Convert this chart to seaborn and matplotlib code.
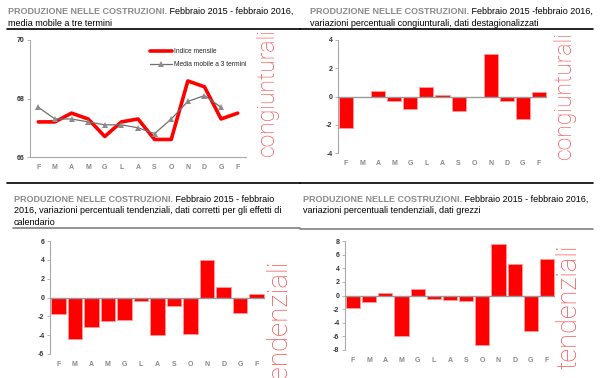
import matplotlib
matplotlib.use("Agg")
import matplotlib.pyplot as plt
import seaborn as sns
import pandas as pd
import numpy as np

# dati
mesi = ['F', 'M', 'A', 'M', 'G', 'L', 'A', 'S', 'O', 'N', 'D', 'G', 'F']
indice_mensile = [67.2, 67.2, 67.5, 67.3, 66.7, 67.2, 67.3, 66.6, 66.6, 68.6, 68.4, 67.3, 67.5]
media_mobile = [67.7, 67.3, 67.3, 67.2, 67.1, 67.1, 67.0, 66.8, 67.3, 67.9, 68.1, 67.7]
cong_destag = [-2.2, 0.0, 0.4, -0.3, -0.9, 0.7, 0.1, -1.0, 0.0, 3.0, -0.3, -1.6, 0.3]
tend_corretti = [-1.8, -4.4, -3.1, -2.5, -2.4, -0.4, -4.0, -0.9, -3.9, 4.0, 1.1, -1.6, 0.4]
tend_grezzi = [-1.8, -1.0, 0.4, -5.9, 1.0, -0.5, -0.6, -0.8, -7.2, 7.6, 4.6, -5.2, 5.4]

titolo_grigio = 'PRODUZIONE NELLE COSTRUZIONI.'
titoli = [
    [' Febbraio 2015 - febbraio 2016,', 'media mobile a tre termini'],
    [' Febbraio 2015 -febbraio 2016,', 'variazioni percentuali congiunturali, dati destagionalizzati'],
    [' Febbraio 2015 - febbraio', '2016, variazioni percentuali tendenziali, dati corretti per gli effetti di', 'calendario'],
    [' Febbraio 2015 - febbraio 2016,', 'variazioni percentuali tendenziali, dati grezzi'],
]

sns.set_style('white')
plt.rcParams['font.family'] = ['Liberation Sans', 'DejaVu Sans']

W, H = 610, 378
fig = plt.figure(figsize=(W / 100, H / 100), dpi=100)

ROSSO = '#ff0000'
ROSA = '#f05252'
FS = 6.5

def rect(x0, y0, x1, y1):
    return [x0 / W, 1 - y1 / H, (x1 - x0) / W, (y1 - y0) / H]

def titolo(x, y, righe):
    t = fig.text(x / W, 1 - y / H, titolo_grigio, color='#8a8a8a', fontsize=FS,
                 fontweight='bold', va='baseline')
    plt.annotate(righe[0], xy=(1, 0), xycoords=t, va='bottom', ha='left',
                 fontsize=FS, color='black', annotation_clip=False)
    for i, r in enumerate(righe[1:]):
        fig.text(x / W, 1 - (y + 11.5 * (i + 1)) / H, r, fontsize=FS, color='black', va='baseline')

def riga(x0, x1, y, col):
    fig.add_artist(plt.Line2D([x0 / W, x1 / W], [1 - y / H, 1 - y / H], color=col, lw=1.2))

def verticale(x, y, testo, fs):
    fig.text(x / W, 1 - y / H, testo, rotation=90, fontsize=fs, color=ROSA,
             family=['Roboto', 'DejaVu Sans'], fontweight='light', va='bottom', ha='left')

def stile(ax, ylim, yticks):
    ax.set_ylim(*ylim)
    ax.set_yticks(yticks)
    ax.set_yticklabels([str(v) for v in yticks], fontsize=5, fontweight='bold', color='#333333')
    ax.set_xlim(-0.5, 12.5)
    ax.set_xticks(range(13))
    ax.set_xticklabels(mesi, fontsize=5, fontweight='bold', color='#888888')
    for s in ['top', 'right']:
        ax.spines[s].set_visible(False)
    ax.spines['left'].set_color('#aaaaaa')
    ax.spines['left'].set_linewidth(0.8)
    ax.tick_params(axis='y', length=2, width=0.6, color='#aaaaaa', pad=2, left=True)
    ax.tick_params(axis='x', length=0, pad=5)
    ax.set_xlabel('')
    ax.set_ylabel('')
    ax.set_facecolor('none')

def barre(ax, vals):
    df = pd.DataFrame({'pos': range(13), 'val': vals})
    sns.barplot(data=df, x='pos', y='val', ax=ax, color=ROSSO, saturation=1,
                width=0.88, edgecolor='#ff9a9a', linewidth=0.6)
    ax.axhline(0, color='#999999', lw=1.0, zorder=3)
    ax.spines['bottom'].set_visible(False)

# pannello 1: indice e media mobile
ax1 = fig.add_axes(rect(30, 40, 246, 157))
df1 = pd.DataFrame({'pos': range(13), 'val': indice_mensile})
df2 = pd.DataFrame({'pos': range(12), 'val': media_mobile})
sns.lineplot(data=df1, x='pos', y='val', ax=ax1, color=ROSSO, lw=2.6, label='Indice mensile')
sns.lineplot(data=df2, x='pos', y='val', ax=ax1, color='#707070', lw=0.9, marker='^',
             markersize=5, markeredgewidth=0, markerfacecolor='#8c8c8c', label='Media mobile a 3 termini')
stile(ax1, (66, 70), [66, 68, 70])
ax1.spines['bottom'].set_color('#aaaaaa')
ax1.spines['bottom'].set_linewidth(0.8)
ax1.legend(loc='upper left', bbox_to_anchor=(0.53, 0.98), frameon=False, fontsize=4.8,
           handlelength=3.2, labelspacing=0.9, handletextpad=0.3)

# pannello 2
ax2 = fig.add_axes(rect(338, 40, 547, 153))
barre(ax2, cong_destag)
stile(ax2, (-4, 4), [-4, -2, 0, 2, 4])

# pannello 3
ax3 = fig.add_axes(rect(50, 241, 265, 354))
barre(ax3, tend_corretti)
stile(ax3, (-6, 6), [-6, -4, -2, 0, 2, 4, 6])

# pannello 4
ax4 = fig.add_axes(rect(345, 241, 555, 350))
barre(ax4, tend_grezzi)
stile(ax4, (-8, 8), [-8, -6, -4, -2, 0, 2, 4, 6, 8])

# titoli e righe
titolo(8, 14, titoli[0])
titolo(310, 14, titoli[1])
titolo(14, 202, titoli[2])
titolo(303, 202, titoli[3])
riga(7, 300, 29, 'black')
riga(300, 593, 29, 'black')
riga(7, 300, 183, 'black')
riga(300, 593, 183, 'black')
riga(13, 300, 228, '#808080')
riga(300, 593, 229, '#808080')

verticale(256, 156, 'congiunturali', 16.5)
verticale(553, 159, 'congiunturali', 16.5)
verticale(266, 388, 'tendenziali', 20)
verticale(556, 369, 'tendenziali', 19.5)

fig.savefig('out.png', dpi=100)
